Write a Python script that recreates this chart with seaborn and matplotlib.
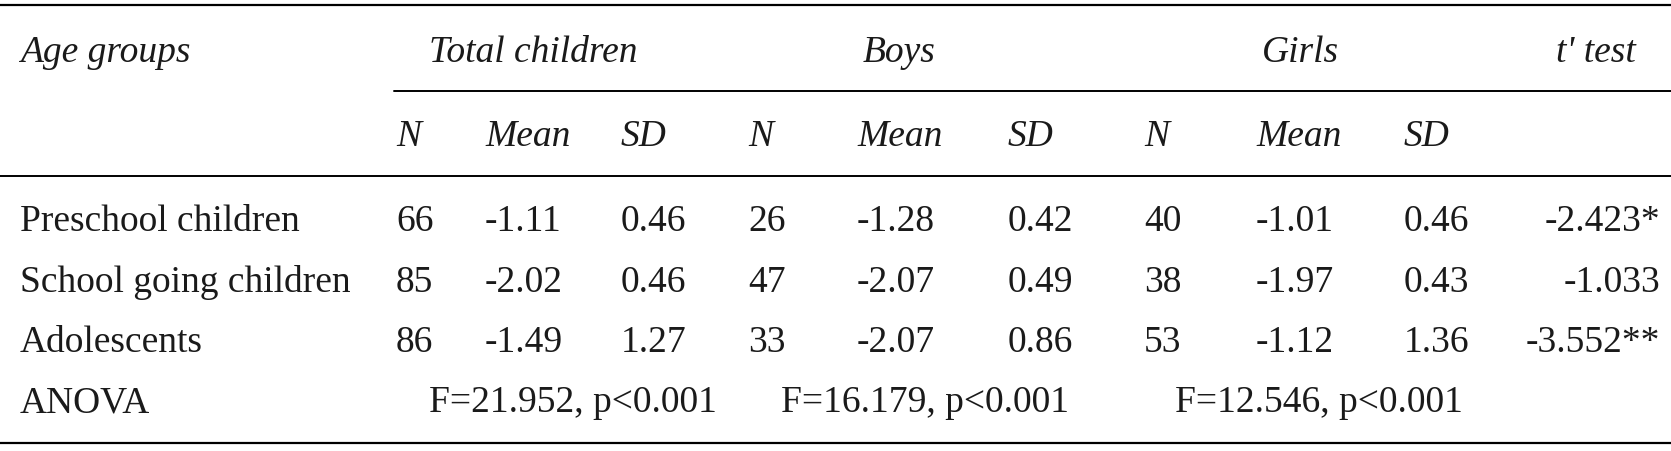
import matplotlib
matplotlib.use("Agg")
import matplotlib.pyplot as plt
import seaborn as sns

sns.set_style("white")
plt.rcParams['font.family'] = ['Liberation Serif', 'DejaVu Serif']

groups = ["Total children", "Boys", "Girls"]
subcols = ["N", "Mean", "SD"]
row_labels = ["Preschool children", "School going children", "Adolescents"]
total_vals = [["66", "-1.11", "0.46"], ["85", "-2.02", "0.46"], ["86", "-1.49", "1.27"]]
boys_vals = [["26", "-1.28", "0.42"], ["47", "-2.07", "0.49"], ["33", "-2.07", "0.86"]]
girls_vals = [["40", "-1.01", "0.46"], ["38", "-1.97", "0.43"], ["53", "-1.12", "1.36"]]
t_test = ["-2.423*", "-1.033", "-3.552**"]
anova = ["F=21.952, p<0.001", "F=16.179, p<0.001", "F=12.546, p<0.001"]

W, H = 1671, 451
fig = plt.figure(figsize=(W / 100, H / 100), dpi=100)
ax = fig.add_axes([0, 0, 1, 1])
ax.set_xlim(0, W)
ax.set_ylim(H, 0)
ax.axis("off")

fs = 27
col = "#1a1a1a"
ax.plot([0, W], [5, 5], color="black", lw=1.6)
ax.plot([394, W], [91, 91], color="black", lw=1.4)
ax.plot([0, W], [176, 176], color="black", lw=1.4)
ax.plot([0, W], [443, 443], color="black", lw=1.6)

ax.text(20, 53, "Age groups", fontsize=fs, style="italic", va="center", color=col)
for g, x in zip(groups, [533, 899, 1300]):
    ax.text(x, 53, g, fontsize=fs, style="italic", ha="center", va="center", color=col)
ax.text(1636, 53, "t' test", fontsize=fs, style="italic", ha="right", va="center", color=col)

xs = [[396, 485, 621], [748, 857, 1008], [1144, 1256, 1404]]
for gx in xs:
    for s, x in zip(subcols, gx):
        ax.text(x, 137, s, fontsize=fs, style="italic", va="center", color=col)

rows_y = [222, 283, 343]
for i, y in enumerate(rows_y):
    ax.text(20, y, row_labels[i], fontsize=fs, va="center", color=col)
    for vals, gx in zip([total_vals, boys_vals, girls_vals], xs):
        for v, x in zip(vals[i], gx):
            ax.text(x, y, v, fontsize=fs, va="center", color=col)
    ax.text(1660, y, t_test[i], fontsize=fs, ha="right", va="center", color=col)

ax.text(20, 403, "ANOVA", fontsize=fs, va="center", color=col)
for a, x in zip(anova, [573, 925, 1319]):
    ax.text(x, 403, a, fontsize=fs, ha="center", va="center", color=col)

fig.savefig("out.png", dpi=100, facecolor="white")
